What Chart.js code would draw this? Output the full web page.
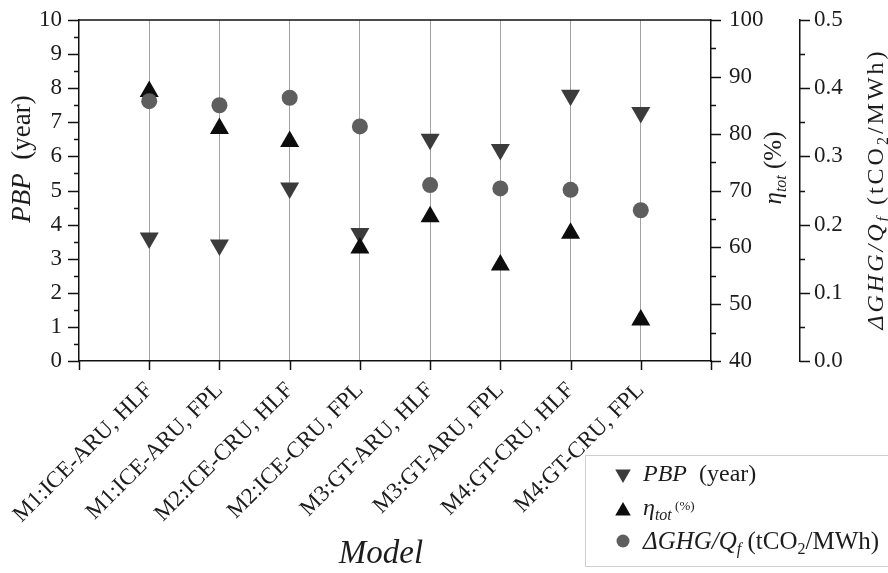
<!DOCTYPE html>
<html><head><meta charset="utf-8">
<script src="https://cdn.jsdelivr.net/npm/chart.js@4.4.1/dist/chart.umd.min.js"></script>
<style>html,body{margin:0;padding:0;background:#fff;}#wrap{width:888px;height:573px;}</style>
</head><body><div id="wrap"><canvas id="c" width="888" height="573"></canvas></div>
<script>
// ---- data ----
const categories = ['M1:ICE-ARU, HLF','M1:ICE-ARU, FPL','M2:ICE-CRU, HLF','M2:ICE-CRU, FPL','M3:GT-ARU, HLF','M3:GT-ARU, FPL','M4:GT-CRU, HLF','M4:GT-CRU, FPL'];
const pbpYears = [3.61, 3.40, 5.07, 3.74, 6.50, 6.20, 7.79, 7.29];
const etaTotPct = [87.4, 80.9, 78.6, 59.9, 65.4, 56.9, 62.5, 47.2];
const ghgPerQf = [0.381, 0.375, 0.386, 0.344, 0.258, 0.253, 0.251, 0.221];
const pbpRange = [0, 10];
const etaRange = [40, 100];
const ghgRange = [0, 0.5];

const FONT = '"Liberation Serif", "Times New Roman", serif';
const TXT = '#1c1c1c';
const pts = arr => arr.map((v, i) => ({x: i + 1, y: v}));

function rich(ctx, parts, x, y, align, spacing) {
  ctx.save();
  if (spacing) ctx.letterSpacing = spacing + 'px';
  let w = 0;
  for (const p of parts) { ctx.font = (p.it ? 'italic ' : '') + p.s + 'px ' + FONT; p.w = ctx.measureText(p.t).width; w += p.w; }
  let cx = align === 'center' ? x - w / 2 : x;
  ctx.textAlign = 'left'; ctx.textBaseline = 'alphabetic'; ctx.fillStyle = TXT;
  for (const p of parts) { ctx.font = (p.it ? 'italic ' : '') + p.s + 'px ' + FONT; ctx.fillText(p.t, cx, y + (p.dy || 0)); cx += p.w; }
  ctx.restore();
}
function vtitle(ctx, parts, cx, cy, size, spacing) {
  ctx.save(); ctx.translate(cx, cy); ctx.rotate(-Math.PI / 2);
  rich(ctx, parts, 0, size * 0.33, 'center', spacing); ctx.restore();
}
function marker(ctx, type, x, y, r, color) {
  ctx.save(); ctx.fillStyle = color; ctx.beginPath();
  if (type === 'circle') { ctx.arc(x, y, r, 0, Math.PI * 2); }
  else {
    const s = type === 'down' ? -1 : 1;
    ctx.moveTo(x, y - s * r);
    ctx.lineTo(x + r * 0.866, y + s * r / 2);
    ctx.lineTo(x - r * 0.866, y + s * r / 2);
    ctx.closePath();
  }
  ctx.fill(); ctx.restore();
}

const decor = {
  id: 'decor',
  afterDraw(chart) {
    const ctx = chart.ctx, a = chart.chartArea;
    const sx = chart.scales.x, sy = chart.scales.y, s2 = chart.scales.y2, s3 = chart.scales.y3;
    ctx.save();
    ctx.strokeStyle = '#111'; ctx.lineWidth = 1.5;
    ctx.beginPath(); ctx.moveTo(a.left, a.top); ctx.lineTo(a.right, a.top); ctx.stroke();
    ctx.beginPath();
    for (let v = pbpRange[0]; v <= pbpRange[1] + 1e-9; v += 0.5) {
      const y = Math.round(sy.getPixelForValue(v)) + 0.5, major = Math.abs(v - Math.round(v)) < 1e-9;
      ctx.moveTo(a.left - (major ? 11 : 5), y); ctx.lineTo(a.left, y);
    }
    for (let v = etaRange[0]; v <= etaRange[1] + 1e-9; v += 5) {
      const y = Math.round(s2.getPixelForValue(v)) + 0.5, major = v % 10 === 0;
      ctx.moveTo(a.right, y); ctx.lineTo(a.right + (major ? 10 : 5), y);
    }
    for (let k = 0; k <= 10; k++) {
      const v = ghgRange[0] + k * 0.05;
      const y = Math.round(s3.getPixelForValue(v)) + 0.5, major = k % 2 === 0;
      ctx.moveTo(s3.left, y); ctx.lineTo(s3.left + (major ? 10 : 5), y);
    }
    for (let v = 0; v <= 9; v++) {
      const x = Math.round(sx.getPixelForValue(v)) + 0.5;
      ctx.moveTo(x, a.bottom); ctx.lineTo(x, a.bottom + 9);
    }
    ctx.stroke();

    vtitle(ctx, [{t:'PBP', s:27, it:true}, {t:'  (year)', s:27}], 21, 159, 27);
    vtitle(ctx, [{t:'\u03b7', s:25, it:true}, {t:'tot', s:16, it:true, dy:5}, {t:' (%)', s:25}], 773, 168, 25);
    vtitle(ctx, [{t:'\u0394GHG/Q', s:24, it:true}, {t:'f', s:16, it:true, dy:5}, {t:' (tCO', s:24}, {t:'2', s:16, dy:5}, {t:'/MWh)', s:24}], 875, 189, 24, 3);
    rich(ctx, [{t:'Model', s:33, it:true}], 381, 563, 'center');

    ctx.strokeStyle = '#cfcfcf'; ctx.lineWidth = 1;
    ctx.strokeRect(585.5, 455.5, 310, 111);
    marker(ctx, 'down', 623, 474, 9, '#3b3b3b');
    rich(ctx, [{t:'PBP', s:24, it:true}, {t:'  (year)', s:24}], 643, 481, 'left');
    marker(ctx, 'up', 623, 511, 9, '#0d0d0d');
    rich(ctx, [{t:'\u03b7', s:24, it:true}, {t:'tot', s:16, it:true, dy:5}, {t:' (%)', s:13, dy:-5}], 643, 515, 'left');
    marker(ctx, 'circle', 623, 541, 6.5, '#5e5e5e');
    rich(ctx, [{t:'\u0394GHG/Q', s:25, it:true}, {t:'f', s:16, it:true, dy:5}, {t:' (tCO', s:25}, {t:'2', s:16, dy:5}, {t:'/MWh)', s:25}], 643, 549, 'left');
    ctx.restore();
  }
};

const noPadV = s => { s.paddingTop = 0; s.paddingBottom = 0; };
const tickFont = {family: FONT, size: 23};
new Chart(document.getElementById('c'), {
  type: 'scatter',
  data: {
    datasets: [
      {label: 'GHG', data: pts(ghgPerQf), yAxisID: 'y3', order: 0, pointStyle: 'circle', pointRadius: 8, pointHoverRadius: 8, backgroundColor: '#5e5e5e', borderWidth: 0},
      {label: 'eta', data: pts(etaTotPct), yAxisID: 'y2', order: 1, pointStyle: 'triangle', pointRadius: 11, pointHoverRadius: 11, backgroundColor: '#0d0d0d', borderWidth: 0},
      {label: 'PBP', data: pts(pbpYears), yAxisID: 'y', order: 2, pointStyle: 'triangle', rotation: 180, pointRadius: 11, pointHoverRadius: 11, backgroundColor: '#3b3b3b', borderWidth: 0}
    ]
  },
  options: {
    responsive: false, animation: false, devicePixelRatio: 1,
    layout: {padding: {top: 20, left: 0, right: 0, bottom: 0}},
    plugins: {legend: {display: false}, tooltip: {enabled: false}},
    scales: {
      x: {
        type: 'linear', position: 'bottom', min: 0, max: 9,
        afterFit: s => { s.height = 212; s.paddingLeft = 0; s.paddingRight = 0; },
        ticks: {stepSize: 1, autoSkip: false, minRotation: 45, maxRotation: 45, padding: 16, color: TXT, font: tickFont,
          callback: v => categories[v - 1] || ''},
        grid: {drawTicks: false, lineWidth: 1, color: c => (c.tick && c.tick.value >= 1 && c.tick.value <= categories.length) ? '#a3a3a3' : 'rgba(0,0,0,0)'},
        border: {display: true, color: '#111', width: 1.5}
      },
      y: {
        position: 'left', min: pbpRange[0], max: pbpRange[1],
        afterFit: s => { s.width = 79; noPadV(s); },
        ticks: {stepSize: 1, padding: 17, color: TXT, font: tickFont},
        grid: {display: false, drawTicks: false},
        border: {display: true, color: '#111', width: 1.5}
      },
      y2: {
        position: 'right', min: etaRange[0], max: etaRange[1],
        afterFit: s => { s.width = 89; noPadV(s); },
        ticks: {stepSize: 10, padding: 18, color: TXT, font: tickFont},
        grid: {display: false, drawTicks: false},
        border: {display: true, color: '#111', width: 1.5}
      },
      y3: {
        position: 'right', min: ghgRange[0], max: ghgRange[1],
        afterFit: s => { s.width = 88; noPadV(s); },
        ticks: {stepSize: 0.1, padding: 14, color: TXT, font: tickFont, callback: v => v.toFixed(1)},
        grid: {display: false, drawTicks: false},
        border: {display: true, color: '#111', width: 1.5}
      }
    }
  },
  plugins: [decor]
});
</script>
</body></html>
